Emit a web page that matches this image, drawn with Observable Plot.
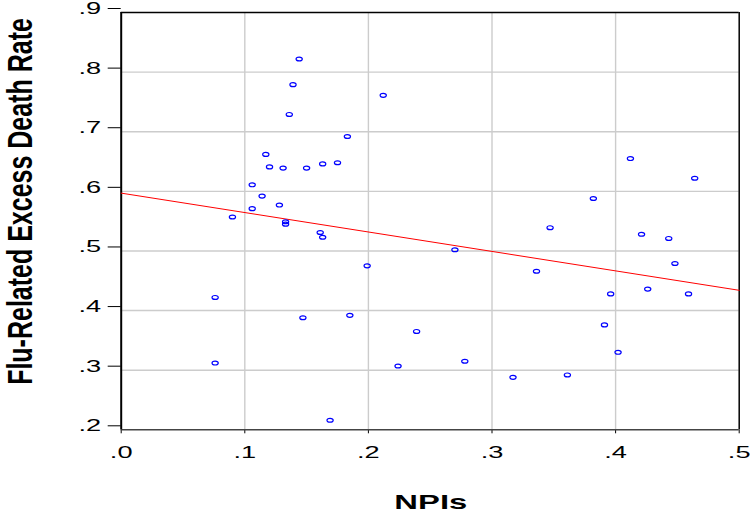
<!DOCTYPE html>
<html><head><meta charset="utf-8">
<script src="https://cdn.jsdelivr.net/npm/d3@7"></script>
<script src="https://cdn.jsdelivr.net/npm/@observablehq/plot@0.6"></script>
<style>body{margin:0;background:#fff}</style>
</head><body><div id="chart"></div>
<script>
const npis = [0.144,0.139,0.136,0.183,0.117,0.120,0.131,0.150,0.163,0.175,0.106,0.114,0.128,0.106,0.090,0.133,0.133,0.161,0.163,0.199,0.076,0.147,0.185,0.076,0.169,0.212,0.270,0.239,0.224,0.278,0.317,0.361,0.336,0.347,0.382,0.412,0.464,0.421,0.443,0.448,0.426,0.396,0.459,0.391,0.402];
const deathRate = [0.822,0.779,0.729,0.692,0.662,0.641,0.639,0.639,0.646,0.648,0.611,0.592,0.577,0.571,0.557,0.549,0.545,0.531,0.523,0.475,0.422,0.388,0.392,0.312,0.216,0.761,0.502,0.365,0.307,0.315,0.288,0.292,0.466,0.539,0.588,0.655,0.622,0.528,0.521,0.479,0.436,0.428,0.428,0.376,0.330];
const fitX = [0, 0.5];
const fitY = [0.597, 0.434];
const xTicks = [0, 0.1, 0.2, 0.3, 0.4, 0.5];
const xTickLabels = [".0", ".1", ".2", ".3", ".4", ".5"];
const yTicks = [0.2, 0.3, 0.4, 0.5, 0.6, 0.7, 0.8, 0.9];
const yTickLabels = [".2", ".3", ".4", ".5", ".6", ".7", ".8", ".9"];
const xTitle = "NPIs";
const yTitle = "Flu-Related Excess Death Rate";

const points = npis.map((x, i) => ({x, y: deathRate[i]}));
const fit = fitX.map((x, i) => ({x, y: fitY[i]}));
const fmt = (ticks, labels) => d => labels[ticks.findIndex(t => Math.abs(t - d) < 1e-9)];

const ellipse = {
  draw(ctx, size) {
    const r = Math.sqrt(size / Math.PI), rx = r * 1.6, ry = r, k = 0.5523;
    ctx.moveTo(rx, 0);
    ctx.bezierCurveTo(rx, ry * k, rx * k, ry, 0, ry);
    ctx.bezierCurveTo(-rx * k, ry, -rx, ry * k, -rx, 0);
    ctx.bezierCurveTo(-rx, -ry * k, -rx * k, -ry, 0, -ry);
    ctx.bezierCurveTo(rx * k, -ry, rx, -ry * k, rx, 0);
    ctx.closePath();
  }
};

const grid = {stroke: "#cccccc", strokeOpacity: 1, strokeWidth: 1.4};
const chart = Plot.plot({
  width: 750, height: 513,
  marginLeft: 120.7, marginRight: 11.3, marginTop: 12, marginBottom: 83.7,
  style: {fontFamily: "'Liberation Sans', Arial, sans-serif", fontSize: "17px", background: "#fff", color: "#000"},
  x: {domain: [0, 0.5], label: null},
  y: {domain: [0.2, 0.9], label: null},
  marks: [
    Plot.gridX(xTicks.slice(1, -1), grid),
    Plot.gridY(yTicks.slice(1, -1), grid),
    Plot.axisX(xTicks, {tickSize: 4, tickPadding: 12, tickFormat: fmt(xTicks, xTickLabels), label: null, fontSize: 17}),
    Plot.axisY(yTicks, {tickSize: 13, tickPadding: 7, tickFormat: fmt(yTicks, yTickLabels), label: null, fontSize: 17, dy: -4}),
    Plot.ruleY([0.2], {stroke: "#444", strokeWidth: 1.5}),
    Plot.ruleY([0.9], {stroke: "#000", strokeWidth: 1.5}),
    Plot.ruleX([0], {stroke: "#000", strokeWidth: 2}),
    Plot.ruleX([0.5], {stroke: "#000", strokeWidth: 1.5}),
    Plot.line(fit, {x: "x", y: "y", stroke: "#ff0000", strokeWidth: 1}),
    Plot.dot(points, {x: "x", y: "y", r: 1.95, symbol: ellipse, stroke: "#0000ff", strokeWidth: 1.2, fill: "none"})
  ]
});
document.getElementById("chart").appendChild(chart);

function stretch(sel, s) {
  sel.each(function () {
    const t = this.getAttribute("transform") || "";
    const ax = +this.getAttribute("x") || 0;
    this.setAttribute("transform", `${t} translate(${ax},0) scale(${s},1) translate(${-ax},0)`);
  });
}
const svg = d3.select(chart);
stretch(svg.selectAll('g[aria-label="x-axis tick label"] text'), 1.6);
stretch(svg.selectAll('g[aria-label="y-axis tick label"] text'), 1.6);

svg.append("text")
  .attr("transform", "translate(430.8,509) scale(1.6,1)")
  .attr("text-anchor", "middle")
  .attr("font-family", "'Liberation Sans', Arial, sans-serif")
  .attr("font-weight", "bold").attr("font-size", 20.5).attr("fill", "#000")
  .text(xTitle);
svg.append("text")
  .attr("transform", "translate(32,201.5) scale(1.4,1) rotate(-90)")
  .attr("text-anchor", "middle")
  .attr("font-family", "'Liberation Sans', Arial, sans-serif")
  .attr("font-weight", "bold").attr("font-size", 25).attr("fill", "#000")
  .text(yTitle);
</script>
</body></html>
